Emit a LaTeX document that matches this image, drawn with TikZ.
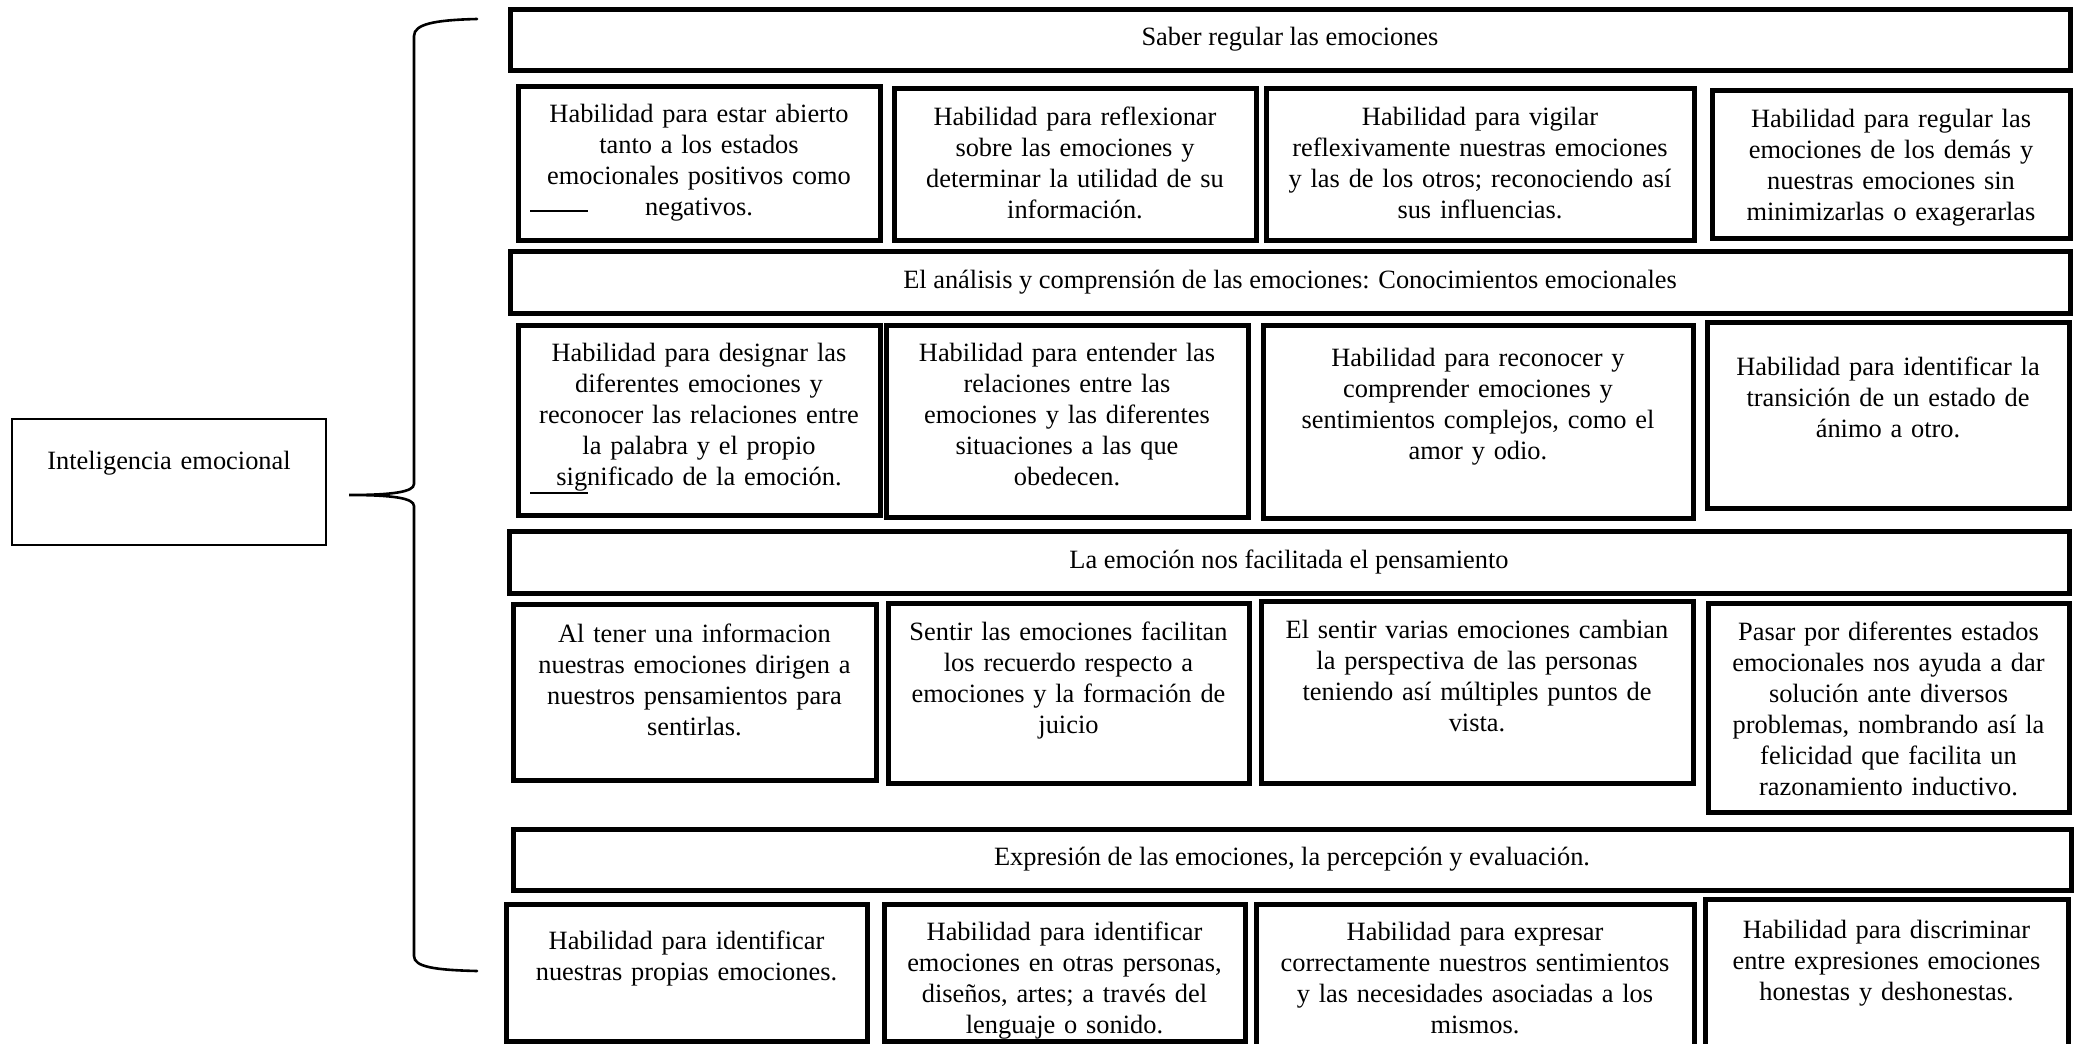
\documentclass[tikz,border=0pt]{standalone}
\usepackage{fontspec}
\setmainfont{Liberation Serif}
\usetikzlibrary{fit}
\tikzset{
  bx/.style={draw, line width=2.5pt, inner sep=0pt},
  htx/.style={inner sep=0pt, anchor=center, font=\fontsize{13.2}{15.5}\selectfont},
  tx/.style={inner sep=0pt, align=center, anchor=north, text width=230pt, font=\fontsize{13.2}{15.5}\selectfont},
  thinbox/.style={draw, line width=0.6pt, inner sep=0pt},
  bracest/.style={line width=1.3pt, line cap=round},
  stray/.style={line width=0.8pt}
}
\newcommand\skbox[7]{%
  \node[bx, fit={(#2,#3) (#4,#5)}] (#1) {};
  \node[tx] (#1t) at ({(#2+#4)/2},#6) {\strut #7};
}
\newcommand\skhead[6]{%
  \node[bx, fit={(#2,#3) (#4,#5)}] (#1) {};
  \node[htx] (#1t) at (#1.center) {#6};
}
\begin{document}
\begin{tikzpicture}[x=0.5pt,y=-0.5pt]
\useasboundingbox (0,0) rectangle (2074,1044);

% left box
\node[thinbox, fit={(12,419) (326,545)}] (root) {};
\node[tx] (roott) at (169,447) {\strut Inteligencia emocional};

% brace
\coordinate (btop) at (477,19);
\coordinate (btip) at (349,495);
\coordinate (bbot) at (477,971);
\draw[bracest] (btop) .. controls (435,20) and (414,24) .. (414,36)
  -- (414,484) .. controls (414,492) and (392,495) .. (btip)
  .. controls (392,495) and (414,498) .. (414,506)
  -- (414,956) .. controls (414,967) and (435,970) .. (bbot);

% headers
\skhead{h1}{510}{9}{2070}{70}{Saber regular las emociones}
\skhead{h2}{510}{251}{2070}{313}{El análisis y comprensión de las emociones: Conocimientos emocionales}
\skhead{h3}{509}{531}{2069}{593}{La emoción nos facilitada el pensamiento}
\skhead{h4}{513}{829}{2071}{890}{Expresión de las emociones, la percepción y evaluación.}

% row 1
\skbox{a1}{518}{86}{880}{240}{100}{Habilidad para estar abierto\\tanto a los estados\\emocionales positivos como\\negativos.}
\skbox{a2}{894}{88}{1256}{240}{103}{Habilidad para reflexionar\\sobre las emociones y\\determinar la utilidad de su\\información.}
\skbox{a3}{1266}{88}{1694}{240}{103}{Habilidad para vigilar\\reflexivamente nuestras emociones\\y las de los otros; reconociendo así\\sus influencias.}
\skbox{a4}{1712}{90}{2070}{238}{105}{Habilidad para regular las\\emociones de los demás y\\nuestras emociones sin\\minimizarlas o exagerarlas}

% row 2
\skbox{b1}{518}{325}{880}{515}{339}{Habilidad para designar las\\diferentes emociones y\\reconocer las relaciones entre\\la palabra y el propio\\significado de la emoción.}
\skbox{b2}{886}{325}{1248}{517}{339}{Habilidad para entender las\\relaciones entre las\\emociones y las diferentes\\situaciones a las que\\obedecen.}
\skbox{b3}{1263}{325}{1693}{518}{344}{Habilidad para reconocer y\\comprender emociones y\\sentimientos complejos, como el\\amor y odio.}
\skbox{b4}{1707}{322}{2069}{508}{353}{Habilidad para identificar la\\transición de un estado de\\ánimo a otro.}

% row 3
\skbox{c1}{513}{604}{876}{780}{620}{Al tener una informacion\\nuestras emociones dirigen a\\nuestros pensamientos para\\sentirlas.}
\skbox{c2}{888}{603}{1249}{783}{618}{Sentir las emociones facilitan\\los recuerdo respecto a\\emociones y la formación de\\juicio}
\skbox{c3}{1261}{601}{1693}{783}{616}{El sentir varias emociones cambian\\la perspectiva de las personas\\teniendo así múltiples puntos de\\vista.}
\skbox{c4}{1708}{603}{2069}{812}{618}{Pasar por diferentes estados\\emocionales nos ayuda a dar\\solución ante diversos\\problemas, nombrando así la\\felicidad que facilita un\\razonamiento inductivo.}

% row 4
\skbox{d1}{506}{904}{867}{1041}{927}{Habilidad para identificar\\nuestras propias emociones.}
\skbox{d2}{884}{904}{1245}{1041}{918}{Habilidad para identificar\\emociones en otras personas,\\diseños, artes; a través del\\lenguaje o sonido.}
\skbox{d3}{1256}{904}{1694}{1052}{918}{Habilidad para expresar\\correctamente nuestros sentimientos\\y las necesidades asociadas a los\\mismos.}
\skbox{d4}{1705}{899}{2068}{1052}{916}{Habilidad para discriminar\\entre expresiones emociones\\honestas y deshonestas.}

% stray short lines
\coordinate (s1a) at (530,211);
\coordinate (s1b) at (588,211);
\coordinate (s2a) at (530,493);
\coordinate (s2b) at (588,493);
\draw[stray] (s1a) -- (s1b);
\draw[stray] (s2a) -- (s2b);
\end{tikzpicture}
\end{document}
